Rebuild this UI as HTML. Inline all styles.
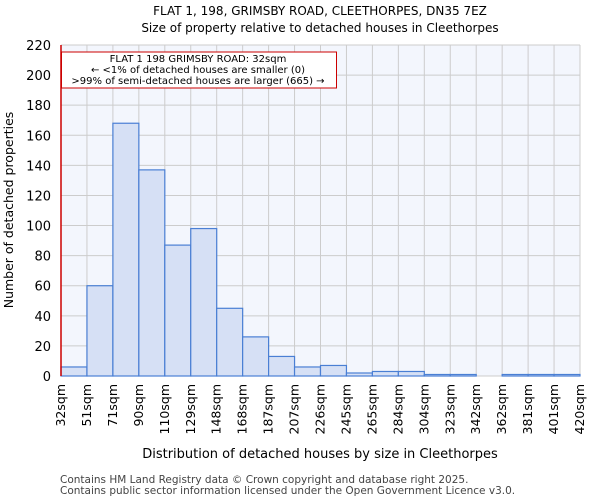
<!DOCTYPE html>
<html><head><meta charset="utf-8"><style>
body{margin:0;background:#fff;font-family:"DejaVu Sans","Liberation Sans",sans-serif}
</style></head><body>
<svg id="c" width="600" height="500" xmlns="http://www.w3.org/2000/svg" font-family="DejaVu Sans, Liberation Sans, sans-serif">
<text x="320" y="15" text-anchor="middle" font-size="12">FLAT 1, 198, GRIMSBY ROAD, CLEETHORPES, DN35 7EZ</text>
<text x="320" y="32" text-anchor="middle" font-size="12">Size of property relative to detached houses in Cleethorpes</text>
<rect x="61" y="45" width="519" height="331" fill="#f3f6fd"/>
<g id="grid"></g><g id="bars"></g><g id="axes"></g>
<text x="320" y="458" text-anchor="middle" font-size="13">Distribution of detached houses by size in Cleethorpes</text>
<text transform="translate(13,210) rotate(-90)" text-anchor="middle" font-size="12.5">Number of detached properties</text>
<text x="60" y="483" font-size="10.5" fill="#444">Contains HM Land Registry data © Crown copyright and database right 2025.</text>
<text x="60" y="494" font-size="10.5" fill="#444">Contains public sector information licensed under the Open Government Licence v3.0.</text>
<line x1="61" y1="45" x2="61" y2="376" stroke="#cc0000" stroke-width="1.5"/>
<g>
<rect x="61.5" y="52" width="275" height="36" fill="#fff" stroke="#cc0000" stroke-width="1"/>
<text x="198" y="62" text-anchor="middle" font-size="10">FLAT 1 198 GRIMSBY ROAD: 32sqm</text>
<text x="198" y="73" text-anchor="middle" font-size="10">← &lt;1% of detached houses are smaller (0)</text>
<text x="198" y="84" text-anchor="middle" font-size="10">&gt;99% of semi-detached houses are larger (665) →</text>
</g>
</svg>
<script>
const categories=["32sqm","51sqm","71sqm","90sqm","110sqm","129sqm","148sqm","168sqm","187sqm","207sqm","226sqm","245sqm","265sqm","284sqm","304sqm","323sqm","342sqm","362sqm","381sqm","401sqm","420sqm"];
const values=[6,60,168,137,87,98,45,26,13,6,7,2,3,3,1,1,0,1,1,1];
const yTicks=[0,20,40,60,80,100,120,140,160,180,200,220];
const NS="http://www.w3.org/2000/svg";
const L=61,R=580,T=45,B=376,yMax=220;
const bw=(R-L)/values.length;
const xs=i=>L+i*bw, ys=v=>B-(v/yMax)*(B-T);
function mk(t,a,p){const e=document.createElementNS(NS,t);for(const k in a)e.setAttribute(k,a[k]);p.appendChild(e);return e;}
const g=document.getElementById('grid'),b=document.getElementById('bars'),ax=document.getElementById('axes');
yTicks.forEach(v=>{
 const l=mk('line',{x1:L,x2:R,y1:ys(v),y2:ys(v),stroke:'#cccccc'},g);
 
 
 const t=mk('text',{x:L-10,y:ys(v)+5,'text-anchor':'end','font-size':13},ax);
 t.textContent=v;
 
 
});
categories.forEach((c,i)=>{
 const x=xs(i);
 const l=mk('line',{x1:x,x2:x,y1:T,y2:B,stroke:'#cccccc'},g);
 
 
 const t=mk('text',{transform:`translate(${x+4},${B+8}) rotate(-90)`,'text-anchor':'end','font-size':12.5},ax);
 t.textContent=c;
 
 
});
values.forEach((v,i)=>{
 const r=mk('rect',{x:xs(i),y:ys(v),width:bw,height:B-ys(v),fill:'#d6e0f5',stroke:'#4a7fd4','stroke-width':1.2},b);
 
 
});
</script>
</body></html>
